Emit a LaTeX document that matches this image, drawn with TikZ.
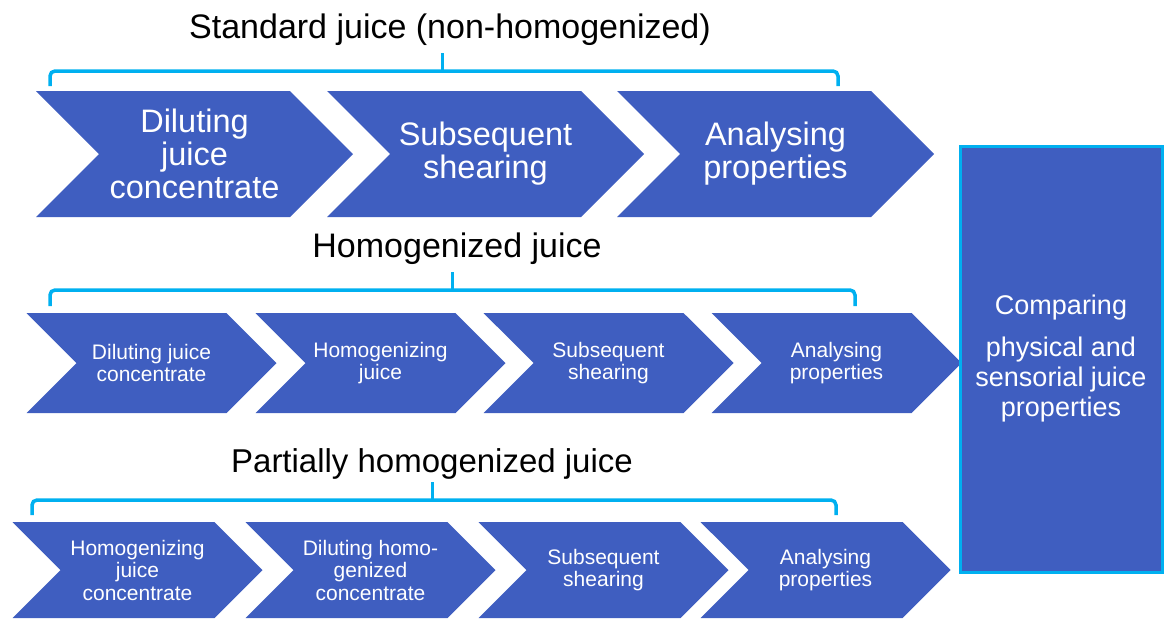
\documentclass[tikz,border=0pt]{standalone}
\usepackage{fontspec}
\setmainfont{Liberation Sans}
\usetikzlibrary{shapes.symbols}
\definecolor{chevblue}{RGB}{63,94,192}
\definecolor{bracecyan}{RGB}{0,176,240}

\begin{document}
\begin{tikzpicture}[
				x=1pt, y=-1pt,
				chev/.style={signal, signal from=west, signal to=east, signal pointer angle=90, fill=chevblue, text=white, align=center, inner sep=0pt},
				bigchev/.style={chev, minimum width=317pt, minimum height=126pt, font=\fontsize{32.5}{33}\selectfont},
				smallchev/.style={chev, minimum width=250pt, minimum height=100pt, font=\fontsize{21}{22.5}\selectfont},
				title/.style={font=\fontsize{34}{40}\selectfont, inner sep=0pt},
				brace/.style={draw=bracecyan, line width=3.5pt, rounded corners=5pt},
				spike/.style={draw=bracecyan, line width=3pt},
				result/.style={draw=bracecyan, line width=3pt, fill=chevblue, text=white, align=center, minimum width=202pt, minimum height=426pt, font=\fontsize{27}{30}\selectfont},
			]
				\useasboundingbox (0,0) rectangle (1164,619);
				
				\node (std) [title] at (450,30) {Standard juice (non-homogenized)};
				\draw[brace] (50,86) |- (838,71) -- (838,86);
				\draw[spike] (442,71) -- (442,53);
				\node (sdil) [bigchev] at (194.5,154) {Diluting\\juice\\concentrate};
				\node (sshe) [bigchev] at (485.5,154) {Subsequent\\shearing};
				\node (sana) [bigchev] at (775.5,154) {Analysing\\properties};
				
				\node (hom) [title] at (457,249) {Homogenized juice};
				\draw[brace] (50,306) |- (855,290) -- (855,306);
				\draw[spike] (452,290) -- (452,272);
				\node (hdil) [smallchev] at (151.5,363) {Diluting juice\\concentrate};
				\node (hhom) [smallchev] at (380.5,363) {Homogenizing\\juice};
				\node (hshe) [smallchev] at (608.5,363) {Subsequent\\shearing};
				\node (hana) [smallchev] at (836.5,363) {Analysing\\properties};
				
				\node (part) [title, font=\fontsize{33}{40}\selectfont] at (432,464) {Partially homogenized juice};
				\draw[brace] (32,515) |- (836,500) -- (836,515);
				\draw[spike] (432,500) -- (432,482);
				\node (phom) [smallchev, minimum height=96pt] at (137.5,570) {Homogenizing\\juice\\concentrate};
				\node (pdil) [smallchev, minimum height=96pt] at (370.5,570) {Diluting homo-\\genized\\concentrate};
				\node (pshe) [smallchev, minimum height=96pt] at (603.5,570) {Subsequent\\shearing};
				\node (pana) [smallchev, minimum height=96pt] at (825.5,570) {Analysing\\properties};
				
				\node (cmp) [result] at (1061,359) {Comparing\\[12pt]physical and\\sensorial juice\\properties};
			\end{tikzpicture}
\end{document}
